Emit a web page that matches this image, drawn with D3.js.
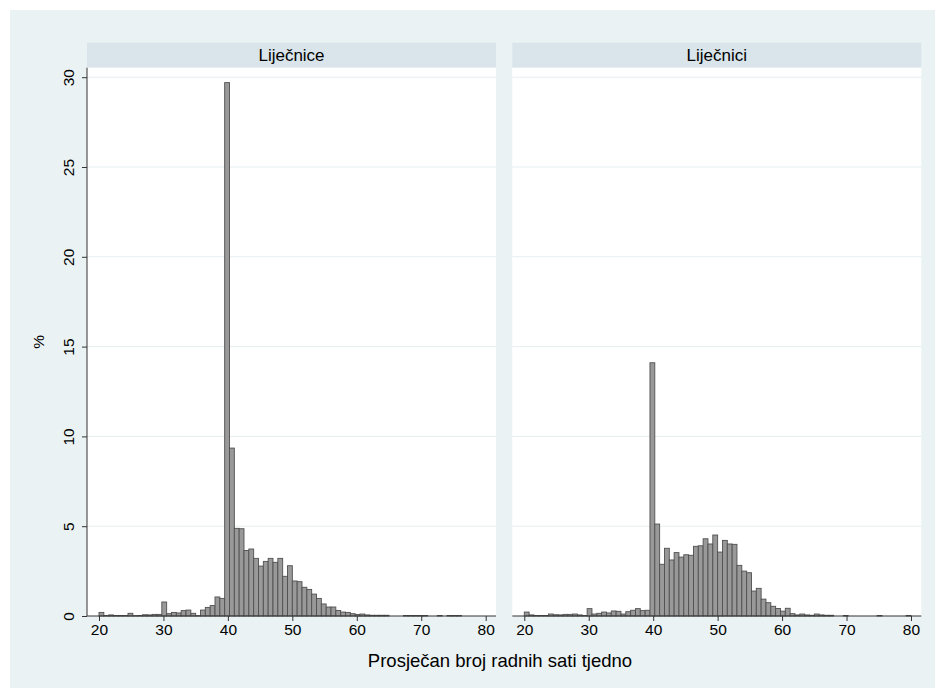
<!DOCTYPE html>
<html>
<head>
<meta charset="utf-8">
<script src="https://cdn.jsdelivr.net/npm/d3@7"></script>
<style>
  html, body { margin: 0; padding: 0; background: #ffffff; }
  svg text { font-family: "Liberation Sans", Arial, sans-serif; fill: #000; }
</style>
</head>
<body>
<svg id="chart" width="945" height="688"></svg>
<script>
// ---- data ----
const panels = ["Liječnice", "Liječnici"];
const binWidth = 0.75;
const binStarts = [
  20, 20.75, 21.5, 22.25, 23, 23.75, 24.5, 25.25, 26, 26.75,
  27.5, 28.25, 29, 29.75, 30.5, 31.25, 32, 32.75, 33.5, 34.25,
  35, 35.75, 36.5, 37.25, 38, 38.75, 39.5, 40.25, 41, 41.75,
  42.5, 43.25, 44, 44.75, 45.5, 46.25, 47, 47.75, 48.5, 49.25,
  50, 50.75, 51.5, 52.25, 53, 53.75, 54.5, 55.25, 56, 56.75,
  57.5, 58.25, 59, 59.75, 60.5, 61.25, 62, 62.75, 63.5, 64.25,
  65, 65.75, 66.5, 67.25, 68, 68.75, 69.5, 70.25, 71, 71.75,
  72.5, 73.25, 74, 74.75, 75.5, 76.25, 77, 77.75, 78.5, 79.25
];
const pctLijecnice = [
  0.20, 0.03, 0.06, 0.03, 0.03, 0.03, 0.15, 0.02, 0.03, 0.07,
  0.06, 0.09, 0.09, 0.78, 0.13, 0.20, 0.17, 0.30, 0.33, 0.15,
  0.02, 0.33, 0.48, 0.58, 1.06, 0.98, 29.7, 9.35, 4.88, 4.86,
  3.65, 3.73, 3.21, 2.78, 3.04, 3.21, 2.99, 3.21, 2.21, 2.80,
  1.95, 1.91, 1.60, 1.48, 1.22, 0.98, 0.67, 0.50, 0.50, 0.31,
  0.22, 0.20, 0.13, 0.08, 0.11, 0.06, 0.04, 0.04, 0.04, 0.04,
  0, 0, 0, 0.03, 0.03, 0.03, 0.03, 0.03, 0, 0,
  0.03, 0, 0.03, 0.03, 0.03, 0, 0, 0, 0, 0
];
const pctLijecnici = [
  0.22, 0.06, 0.03, 0.03, 0.03, 0.11, 0.07, 0.06, 0.09, 0.09,
  0.11, 0.06, 0.03, 0.41, 0.11, 0.15, 0.22, 0.17, 0.28, 0.26,
  0.11, 0.24, 0.32, 0.41, 0.30, 0.32, 14.1, 5.12, 2.88, 3.77,
  3.12, 3.53, 3.28, 3.41, 3.38, 3.88, 3.91, 4.30, 4.01, 4.51,
  3.56, 4.21, 4.01, 3.99, 2.82, 2.50, 2.41, 1.39, 1.54, 0.94,
  0.74, 0.54, 0.42, 0.27, 0.43, 0.13, 0.06, 0.11, 0.06, 0.04,
  0.11, 0.06, 0.04, 0.04, 0, 0, 0.03, 0, 0, 0,
  0, 0, 0, 0.03, 0, 0, 0, 0, 0, 0.03
];
const xTicks = [20, 30, 40, 50, 60, 70, 80];
const yTicks = [0, 5, 10, 15, 20, 25, 30];
const xTitle = "Prosječan broj radnih sati tjedno";
const yTitle = "%";

// ---- layout ----
const svg = d3.select("#chart");
svg.append("rect").attr("x", 10).attr("y", 10).attr("width", 925).attr("height", 678)
  .attr("fill", "#eaf2f3");

const panelLefts = [87, 512.3];
const panelW = 409;
const stripTop = 42.7, stripBottom = 67.7, baseY = 616;
const seriesList = [pctLijecnice, pctLijecnici];

const y = d3.scaleLinear().domain([0, 30.53]).range([baseY, stripBottom]);

panels.forEach((name, i) => {
  const left = panelLefts[i];
  const x = d3.scaleLinear().domain([18.14, 81.6]).range([left, left + panelW]);
  const g = svg.append("g");

  // strip
  g.append("rect").attr("x", left).attr("y", stripTop).attr("width", panelW)
    .attr("height", stripBottom - stripTop).attr("fill", "#d9e5ea");
  g.append("text").attr("x", left + panelW / 2).attr("y", (stripTop + stripBottom) / 2)
    .attr("dy", "0.36em").attr("text-anchor", "middle").style("font-size", "17px").text(name);

  // plot region
  g.append("rect").attr("x", left).attr("y", stripBottom).attr("width", panelW)
    .attr("height", baseY - stripBottom).attr("fill", "#ffffff");

  // gridlines
  g.selectAll("line.grid").data(yTicks.filter(d => d > 0)).join("line")
    .attr("x1", left).attr("x2", left + panelW)
    .attr("y1", d => y(d)).attr("y2", d => y(d))
    .attr("stroke", "#e6eef0").attr("stroke-width", 1);

  // bars
  const data = binStarts.map((s, k) => ({ s, v: seriesList[i][k] })).filter(d => d.v > 0);
  g.selectAll("rect.bar").data(data).join("rect")
    .attr("x", d => x(d.s)).attr("width", d => x(d.s + binWidth) - x(d.s))
    .attr("y", d => y(d.v)).attr("height", d => baseY - y(d.v))
    .attr("fill", "#999999").attr("stroke", "#505050").attr("stroke-width", 0.9);

  // x axis
  const xAxis = d3.axisBottom(x).tickValues(xTicks).tickSize(5).tickPadding(3).tickSizeOuter(0);
  const xa = g.append("g").attr("transform", `translate(0,${baseY})`).call(xAxis);
  xa.select(".domain").attr("stroke", "#333").attr("d", `M${left},0H${left + panelW}`);
  xa.selectAll(".tick line").attr("stroke", "#333");
  xa.selectAll(".tick text").style("font-size", "15.5px").style("font-family", "Liberation Sans, Arial, sans-serif").attr("fill", "#000");

  if (i === 0) {
    const yAxis = d3.axisLeft(y).tickValues(yTicks).tickSize(5).tickSizeOuter(0);
    const ya = g.append("g").attr("transform", `translate(${left},0)`).call(yAxis);
    ya.select(".domain").attr("stroke", "#333").attr("d", `M0,${baseY}V${stripBottom}`);
    ya.selectAll(".tick line").attr("stroke", "#333");
    ya.selectAll(".tick text")
      .attr("x", null).attr("dy", null)
      .attr("text-anchor", "middle")
      .attr("transform", "translate(-13,0) rotate(-90)")
      .attr("dy", "0em")
      .style("font-size", "15.5px").style("font-family", "Liberation Sans, Arial, sans-serif").attr("fill", "#000");
  }
});

// axis titles
svg.append("text").attr("x", 500).attr("y", 667).attr("text-anchor", "middle")
  .style("font-size", "18.5px").text(xTitle);
svg.append("text").attr("transform", `translate(44,${(stripBottom + baseY) / 2}) rotate(-90)`)
  .attr("text-anchor", "middle").style("font-size", "15.5px").text(yTitle);
</script>
</body>
</html>
